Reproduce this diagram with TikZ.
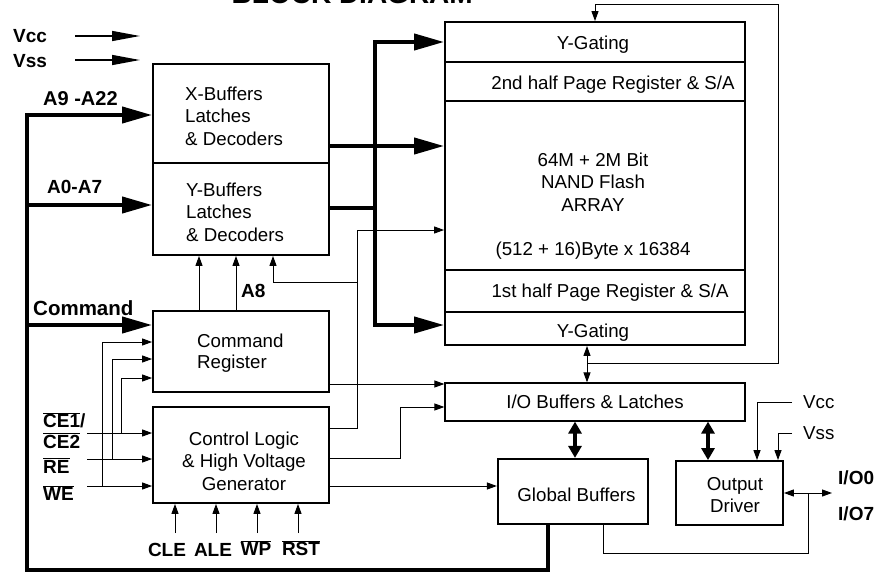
\documentclass[tikz,border=0pt]{standalone}
\usepackage{fontspec}
\setmainfont{Liberation Sans}
\usetikzlibrary{arrows.meta}
\newcommand{\ovl}[1]{$\overline{\hbox{#1}}$}
\begin{document}
\begin{tikzpicture}[x=1pt,y=-1pt,
  blk/.style={draw,line width=1.8pt,inner sep=0pt},
  txt/.style={inner sep=0pt,font=\fontsize{18.7}{22.5}\selectfont},
  lbl/.style={inner sep=0pt,font=\bfseries\fontsize{19}{22}\selectfont},
  conn/.style={line width=1pt},
  bus/.style={line width=4pt},
  arr/.style={-{Triangle[length=10pt,width=7pt]}},
  dbl/.style={{Triangle[length=10pt,width=7pt]}-{Triangle[length=10pt,width=7pt]}},
  bigtip/.style={-{Triangle[length=30pt,width=16pt]}},
  fat/.style={line width=4pt,{Triangle[length=12pt,width=13pt]}-{Triangle[length=12pt,width=13pt]}}
]
\useasboundingbox (0,0) rectangle (876,578);

% title (cropped at the top edge, as in the reference)
\node[anchor=base east,font=\bfseries\fontsize{28}{28}\selectfont,inner sep=0pt] (title) at (473,3.5) {BLOCK DIAGRAM};

% memory array stack
\node[blk,minimum width=300pt,minimum height=40pt] (ygt) at (595,42) {};
\node[blk,minimum width=300pt,minimum height=39pt] (p2) at (595,81.5) {};
\node[blk,minimum width=300pt,minimum height=169pt] (core) at (595,185.5) {};
\node[blk,minimum width=300pt,minimum height=42pt] (p1) at (595,291) {};
\node[blk,minimum width=300pt,minimum height=33pt] (ygb) at (595,328.5) {};
\node[txt] (ygtT) at (593,45) {Y-Gating};
\node[txt] (p2T) at (613,85) {2nd half Page Register \& S/A};
\node[txt,align=center] (coreT) at (593,182) {64M + 2M Bit\\NAND Flash\\ARRAY};
\node[txt] (coreT2) at (593,251) {(512 + 16)Byte x 16384};
\node[txt] (p1T) at (610,293) {1st half Page Register \& S/A};
\node[txt] (ygbT) at (593,333) {Y-Gating};

% left blocks
\node[blk,minimum width=176pt,minimum height=99pt] (xb) at (241,113.5) {};
\node[txt,align=left,anchor=west] (xbT) at (185,116) {X-Buffers\\Latches\\\& Decoders};
\node[blk,minimum width=176pt,minimum height=92pt] (yb) at (241,209) {};
\node[txt,align=left,anchor=west] (ybT) at (186,212) {Y-Buffers\\Latches\\\& Decoders};
\node[blk,minimum width=176pt,minimum height=81pt] (cr) at (241,351.5) {};
\node[txt,align=left,anchor=west,font=\fontsize{18.7}{21}\selectfont] (crT) at (197,353) {Command\\Register};
\node[blk,minimum width=176pt,minimum height=96pt] (cl) at (241,455) {};
\node[txt,align=center] (clT) at (244,461) {Control Logic\\\& High Voltage\\Generator};

% lower right blocks
\node[draw,line width=1.2pt,inner sep=0pt,minimum width=300pt,minimum height=38pt,font=\fontsize{18.7}{22}\selectfont] (io) at (595,402) {I/O Buffers \& Latches};
\node[blk,line width=2.2pt,minimum width=150pt,minimum height=65pt] (gb) at (573,491.5) {};
\node[txt] (gbT) at (576.5,495) {Global Buffers};
\node[blk,minimum width=107pt,minimum height=64pt] (od) at (729.5,493) {};
\node[txt,align=center,font=\fontsize{18.7}{21.5}\selectfont] (odT) at (735,495) {Output\\Driver};

% labels
\node[lbl,anchor=west] (vccL) at (13,36) {Vcc};
\node[lbl,anchor=west] (vssL) at (13,61) {Vss};
\node[lbl,anchor=west,font=\bfseries\fontsize{20}{22}\selectfont] (a9L) at (43,99) {A9 -A22};
\node[lbl,anchor=west] (a0L) at (47,186.5) {A0-A7};
\node[lbl,anchor=west,font=\bfseries\fontsize{20.5}{22}\selectfont] (cmdL) at (33,308.5) {Command};
\node[lbl,anchor=west] (a8L) at (241,290.5) {A8};
\node[lbl,anchor=west] (ce1L) at (43,420) {\ovl{CE1}/};
\node[lbl,anchor=west] (ce2L) at (43,440.5) {\ovl{CE2}};
\node[lbl,anchor=west] (reL) at (43,465.5) {\ovl{RE}};
\node[lbl,anchor=west] (weL) at (43,493) {\ovl{WE}};
\node[lbl] (cleL) at (167,550) {CLE};
\node[lbl] (aleL) at (213,550) {ALE};
\node[lbl] (wpL) at (256,548) {\ovl{WP}};
\node[lbl] (rstL) at (301,548) {\ovl{RST}};
\node[lbl,anchor=west] (io0L) at (838,477.5) {I/O0};
\node[lbl,anchor=west] (io7L) at (838,514) {I/O7};
\node[txt,anchor=west] (vccR) at (803,402) {Vcc};
\node[txt,anchor=west] (vssR) at (803,433.5) {Vss};

% supply arrows top left
\coordinate (vcA) at (75,36); \coordinate (vcB) at (140,36);
\coordinate (vsA) at (75,60); \coordinate (vsB) at (140,60);
\draw[line width=1.5pt,-{Triangle[length=28pt,width=10pt]}] (vcA) -- (vcB);
\draw[line width=1.5pt,-{Triangle[length=28pt,width=10pt]}] (vsA) -- (vsB);

% address / command bus
\coordinate (busA) at (27,115);
\coordinate (busB) at (27,205);
\coordinate (busC) at (27,325);
\coordinate (busD) at (27,570);
\coordinate (gbo) at (548,0);
\draw[bus,bigtip] (gbo |- gb.south) |- (busD) -- (busA) -- (busA -| xb.west);
\draw[bus,bigtip] (busB) -- (busB -| yb.west);
\draw[bus,bigtip] (busC) -- (busC -| cr.west);

% buffers to array
\coordinate (vt) at (375,42);
\coordinate (vb) at (375,325);
\coordinate (ybo) at (329,208);
\coordinate (xbo) at (329,146);
\draw[bus,bigtip] (xbo) -- (xbo -| core.west);
\draw[bus,bigtip] (ybo) -| (vt) -- (vt -| ygt.west);
\draw[bus,bigtip] (ybo -| vt) -- (vb) -- (vb -| ygb.west);

% control logic to array and Y-buffers
\coordinate (clo1) at (329,428);
\coordinate (j1) at (357,230);
\coordinate (j2) at (357,282);
\coordinate (xA) at (199,0);
\coordinate (xB) at (236,0);
\coordinate (xC) at (273,0);
\draw[conn,arr] (clo1) -| (j1) -- (j1 -| core.west);
\draw[conn,arr] (j2) -| (xC |- yb.south);
\draw[conn,arr] (xA |- cr.north) -- (xA |- yb.south);
\draw[conn,arr] (xB |- cr.north) -- (xB |- yb.south);

% to I/O buffers and global buffers
\coordinate (cro) at (329,384);
\coordinate (clo2) at (329,458);
\coordinate (k) at (400,407);
\coordinate (clo3) at (329,486);
\draw[conn,arr] (cro) -- (cro -| io.west);
\draw[conn,arr] (clo2) -| (k) -- (k -| io.west);
\draw[conn,arr] (clo3) -- (clo3 -| gb.west);

% control inputs
\coordinate (ceIn) at (87,433);
\coordinate (reIn) at (87,459);
\coordinate (weIn) at (87,486);
\draw[conn,arr] (ceIn) -- (ceIn -| cl.west);
\draw[conn,arr] (reIn) -- (reIn -| cl.west);
\draw[conn,arr] (weIn) -- (weIn -| cl.west);
\coordinate (b1) at (121,433); \coordinate (b1t) at (121,378);
\coordinate (b2) at (112,459); \coordinate (b2t) at (112,359);
\coordinate (b3) at (102,486); \coordinate (b3t) at (102,342);
\draw[conn,arr] (b1) |- (b1t -| cr.west);
\draw[conn,arr] (b2) |- (b2t -| cr.west);
\draw[conn,arr] (b3) |- (b3t -| cr.west);

% bottom inputs
\coordinate (cleA) at (175,533);
\coordinate (aleA) at (216,533);
\coordinate (wpA) at (257,533);
\coordinate (rstA) at (298,533);
\draw[conn,arr] (cleA) -- (cleA |- cl.south);
\draw[conn,arr] (aleA) -- (aleA |- cl.south);
\draw[conn,arr] (wpA) -- (wpA |- cl.south);
\draw[conn,arr] (rstA) -- (rstA |- cl.south);

% Y-gating <-> I/O and feedback
\coordinate (xD) at (587,0);
\coordinate (fb1) at (587,363);
\coordinate (fb2) at (778,5);
\draw[conn,dbl] (xD |- ygb.south) -- (xD |- io.north);
\draw[conn,arr] (fb1) -| (fb2) -| (ygt.north);

% fat double arrows
\coordinate (xE) at (575,0);
\coordinate (xF) at (708,0);
\draw[fat] (xE |- io.south) -- (xE |- gb.north);
\draw[fat] (xF |- io.south) -- (xF |- od.north);

% output driver supplies and I/O
\coordinate (xG) at (757,0);
\coordinate (xH) at (778,0);
\draw[conn,arr] ([xshift=-11pt]vccR.west) -| (xG |- od.north);
\draw[conn,arr] ([xshift=-11pt]vssR.west) -| (xH |- od.north);
\coordinate (ioE) at (832,493);
\draw[conn,dbl] (od.east) -- (ioE);
\coordinate (xI) at (603,0);
\coordinate (gbr) at (808,553);
\draw[conn] (xI |- gb.south) |- (gbr) -- (gbr |- od.east);
\end{tikzpicture}
\end{document}
